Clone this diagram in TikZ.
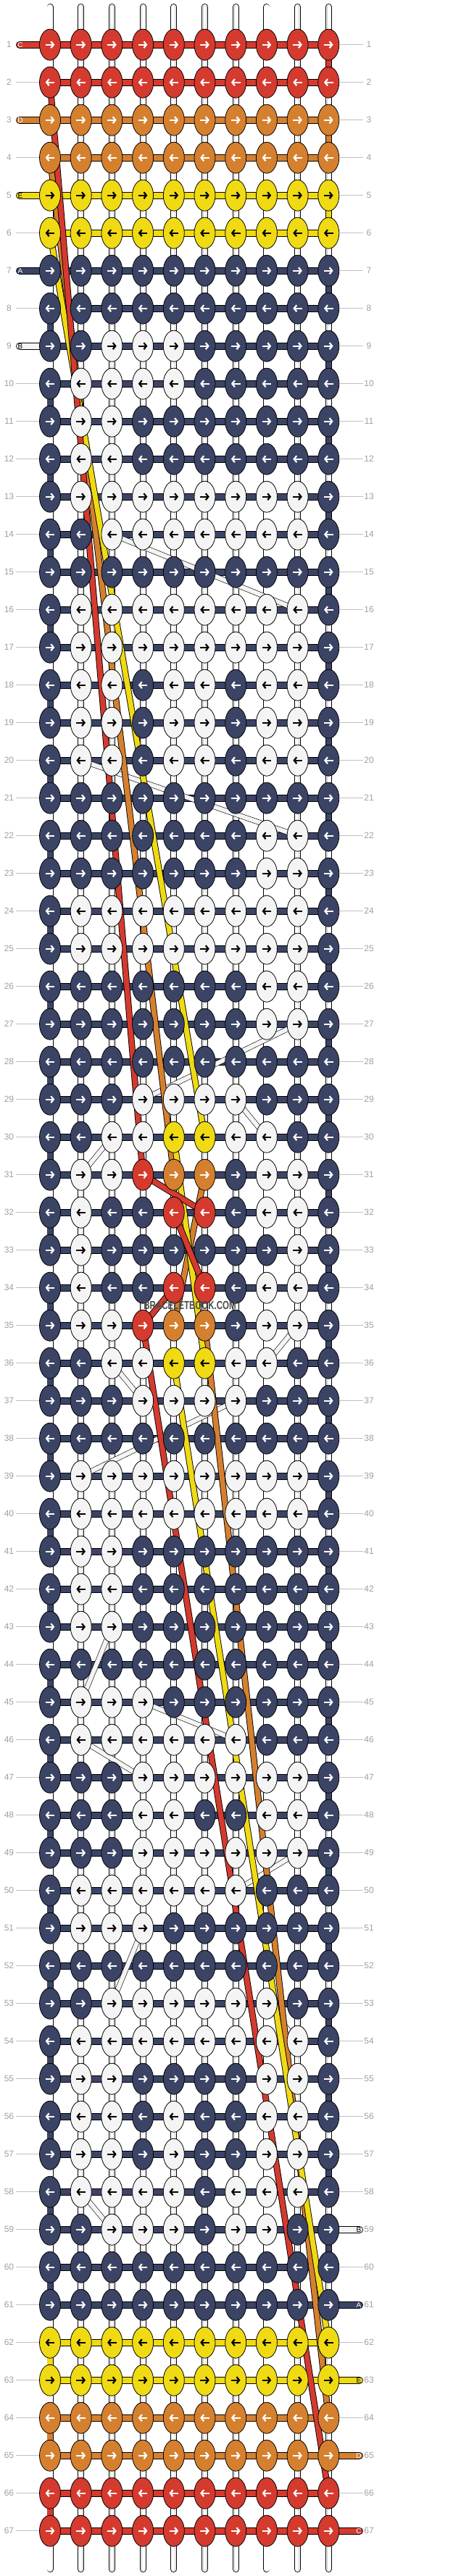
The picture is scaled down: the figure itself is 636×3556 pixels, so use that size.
\documentclass[tikz,border=0pt]{standalone}
\usepackage{fontspec}
\setmainfont{Liberation Sans}
\usepackage{graphicx}
\usetikzlibrary{shapes.geometric,arrows.meta}

\definecolor{cR}{HTML}{D53A2F}
\definecolor{cO}{HTML}{D5802F}
\definecolor{cY}{HTML}{EFDA14}
\definecolor{cN}{HTML}{3B4465}
\definecolor{cW}{HTML}{F4F4F4}
\colorlet{aR}{white}
\colorlet{aO}{white}
\colorlet{aN}{white}
\colorlet{aY}{black}
\colorlet{aW}{black}
\definecolor{numgray}{HTML}{A0A0A0}
\definecolor{guidegray}{HTML}{C0C0C0}

\tikzset{
  knot/.style={ellipse, draw=black, line width=0.8pt, minimum width=29pt, minimum height=43pt, inner sep=0pt},
  knotarrow/.style={line width=2.2pt, -{Straight Barb[length=3.6pt,width=9pt]}},
  warp/.style={draw=black, line width=0.9pt, double=white, double distance=7.2pt, line cap=round},
  warpline/.style={draw=gray!40, line width=0.5pt, double=white, double distance=3.2pt, line cap=round},
  rowbar/.style={draw=black, line width=0.9pt, double=#1, double distance=8.2pt},
  turnbar/.style={draw=black, line width=0.9pt, double=#1, double distance=7.2pt},
  tailbar/.style={rowbar=#1, line cap=round},
  floatline/.style={draw=black, line width=0.9pt, double=#1, double distance=7pt},
  whitefloat/.style={draw=black, line width=0.6pt, double=cW, double distance=6pt},
  rownum/.style={text=numgray, font=\fontsize{12}{12}\selectfont, inner sep=0pt},
  guide/.style={draw=guidegray, line width=0.8pt},
  tailtext/.style={font=\fontsize{10}{10}\selectfont, inner sep=0pt}
}

\def\knotrows{%
1/R/{R,R,R,R,R,R,R,R,R,R},%
2/R/{R,R,R,R,R,R,R,R,R,R},%
3/O/{O,O,O,O,O,O,O,O,O,O},%
4/O/{O,O,O,O,O,O,O,O,O,O},%
5/Y/{Y,Y,Y,Y,Y,Y,Y,Y,Y,Y},%
6/Y/{Y,Y,Y,Y,Y,Y,Y,Y,Y,Y},%
7/N/{N,N,N,N,N,N,N,N,N,N},%
8/N/{N,N,N,N,N,N,N,N,N,N},%
9/N/{N,N,W,W,W,N,N,N,N,N},%
10/N/{N,W,W,W,W,N,N,N,N,N},%
11/N/{N,W,W,N,N,N,N,N,N,N},%
12/N/{N,W,W,N,N,N,N,N,N,N},%
13/N/{N,W,W,W,W,W,W,W,W,N},%
14/N/{N,N,W,W,W,W,W,W,W,N},%
15/N/{N,N,N,N,N,N,N,N,N,N},%
16/N/{N,W,W,W,W,W,W,W,W,N},%
17/N/{N,W,W,W,W,W,W,W,W,N},%
18/N/{N,W,W,N,W,W,N,W,W,N},%
19/N/{N,W,W,N,W,W,N,W,W,N},%
20/N/{N,W,W,N,W,W,N,W,W,N},%
21/N/{N,N,N,N,N,N,N,N,N,N},%
22/N/{N,N,N,N,N,N,N,W,W,N},%
23/N/{N,N,N,N,N,N,N,W,W,N},%
24/N/{N,W,W,W,W,W,W,W,W,N},%
25/N/{N,W,W,W,W,W,W,W,W,N},%
26/N/{N,N,N,N,N,N,N,W,W,N},%
27/N/{N,N,N,N,N,N,N,W,W,N},%
28/N/{N,N,N,N,N,N,N,N,N,N},%
29/N/{N,N,N,W,W,W,W,N,N,N},%
30/N/{N,N,W,W,Y,Y,W,W,N,N},%
31/N/{N,W,W,R,O,O,N,W,W,N},%
32/N/{N,W,N,N,R,R,N,W,W,N},%
33/N/{N,W,N,N,N,N,N,N,W,N},%
34/N/{N,W,N,N,R,R,N,W,W,N},%
35/N/{N,W,W,R,O,O,N,W,W,N},%
36/N/{N,N,W,W,Y,Y,W,W,N,N},%
37/N/{N,N,N,W,W,W,W,N,N,N},%
38/N/{N,N,N,N,N,N,N,N,N,N},%
39/N/{N,W,W,W,W,W,W,W,W,N},%
40/N/{N,W,W,W,W,W,W,W,W,N},%
41/N/{N,W,W,N,N,N,N,N,N,N},%
42/N/{N,W,W,N,N,N,N,N,N,N},%
43/N/{N,W,W,N,N,N,N,N,N,N},%
44/N/{N,N,N,N,N,N,N,N,N,N},%
45/N/{N,W,W,W,N,N,N,N,N,N},%
46/N/{N,W,W,W,W,W,W,N,N,N},%
47/N/{N,N,N,W,W,W,W,W,W,N},%
48/N/{N,N,N,W,W,N,N,W,W,N},%
49/N/{N,N,N,W,W,W,W,W,W,N},%
50/N/{N,W,W,W,W,W,W,N,N,N},%
51/N/{N,W,W,W,N,N,N,N,N,N},%
52/N/{N,N,N,N,N,N,N,N,N,N},%
53/N/{N,N,W,W,W,W,W,W,N,N},%
54/N/{N,W,W,W,W,W,W,W,W,N},%
55/N/{N,W,W,N,N,N,N,W,W,N},%
56/N/{N,W,W,N,W,N,N,W,W,N},%
57/N/{N,W,W,N,W,N,N,W,W,N},%
58/N/{N,W,W,W,W,N,W,W,W,N},%
59/N/{N,N,W,W,W,N,W,W,N,N},%
60/N/{N,N,N,N,N,N,N,N,N,N},%
61/N/{N,N,N,N,N,N,N,N,N,N},%
62/Y/{Y,Y,Y,Y,Y,Y,Y,Y,Y,Y},%
63/Y/{Y,Y,Y,Y,Y,Y,Y,Y,Y,Y},%
64/O/{O,O,O,O,O,O,O,O,O,O},%
65/O/{O,O,O,O,O,O,O,O,O,O},%
66/R/{R,R,R,R,R,R,R,R,R,R},%
67/R/{R,R,R,R,R,R,R,R,R,R}}

\begin{document}
\begin{tikzpicture}[x=1pt, y=-1pt]
  \useasboundingbox (0,0) rectangle (636,3556);
  \fill[white] (0,0) rectangle (636,3556);

  \foreach \r in {1,...,67}
    \foreach \c in {1,...,10}
      \coordinate (p-\r-\c) at ({69+(\c-1)*42.7},{61.7+(\r-1)*52});

  % warp strings
  \foreach \c in {1,...,10} {
    \coordinate (wt-\c) at ({69+(\c-1)*42.7},9.5);
    \coordinate (wb-\c) at ({69+(\c-1)*42.7},3546.5);
    \draw[warp] (wt-\c) -- (wb-\c);
    \draw[warpline] (wt-\c) -- (wb-\c);
  }

  % turns at the edges
  \foreach \r/\cc/\col in {1/R/10,3/O/10,5/Y/10,62/Y/1,64/O/1,66/R/1} {
    \pgfmathtruncatemacro\rn{\r+1}
    \draw[turnbar=c\cc] (p-\r-\col) -- (p-\rn-\col);
  }
  \foreach \r in {7,9,...,59} {
    \pgfmathtruncatemacro\rn{\r+1}
    \draw[turnbar=cN] (p-\r-10) -- (p-\rn-10);
  }
  \foreach \r in {8,10,...,60} {
    \pgfmathtruncatemacro\rn{\r+1}
    \draw[turnbar=cN] (p-\r-1) -- (p-\rn-1);
  }

  \foreach \r/\rc/\ks in \knotrows
    \draw[rowbar=c\rc] (p-\r-1) -- (p-\r-10);

  % strings coming in and going out
  \foreach \r/\cc/\lt/\tc in {1/R/C/white,3/O/D/white,5/Y/E/black,7/N/A/white,9/W/B/black} {
    \coordinate (tl-\r) at ([xshift=-42pt]p-\r-1);
    \draw[tailbar=c\cc] (tl-\r) -- (p-\r-1);
    \node[tailtext, text=\tc] (tt-\r) at ([xshift=1pt]tl-\r) {\lt};
  }
  \foreach \r/\cc/\lt/\tc in {59/W/B/black,61/N/A/white,63/Y/E/black,65/O/D/white,67/R/C/white} {
    \coordinate (tr-\r) at ([xshift=42.7pt]p-\r-10);
    \draw[tailbar=c\cc] (p-\r-10) -- (tr-\r);
    \node[tailtext, text=\tc] (tt-\r) at ([xshift=-1pt]tr-\r) {\lt};
  }

  \foreach \a/\b in {14-3/16-9,20-2/22-9,27-9/29-4,29-7/30-8,30-3/31-2,35-9/36-8,36-3/37-4,37-7/39-2,43-3/45-2,45-4/46-7,46-2/47-4,49-9/50-7,51-4/53-3,53-8/54-9,58-2/59-3}
    \draw[whitefloat] (p-\a) -- (p-\b);

  \draw[floatline=cO] (p-4-1) -- (p-31-5);
  \draw[floatline=cO] (p-31-6) -- (p-35-5);
  \draw[floatline=cO] (p-35-6) -- (p-64-10);
  \draw[floatline=cY] (p-6-1) -- (p-30-6);
  \draw[floatline=cY] (p-30-5) -- (p-36-6);
  \draw[floatline=cY] (p-36-5) -- (p-62-10);
  \draw[floatline=cR] (p-2-1) -- (p-31-4);
  \draw[floatline=cR] (p-31-4) -- (p-32-6);
  \draw[floatline=cR] (p-32-5) -- (p-34-6);
  \draw[floatline=cR] (p-34-5) -- (p-35-4);
  \draw[floatline=cR] (p-35-4) -- (p-66-10);

  % knots
  \foreach \r/\rc/\ks in \knotrows {
    \pgfmathsetmacro\ax{isodd(\r) ? -6.3 : 6.3}
    \pgfmathsetmacro\bx{isodd(\r) ? 12.6 : -12.6}
    \foreach \k [count=\c] in \ks {
      \node[knot, fill=c\k] (k-\r-\c) at (p-\r-\c) {};
      \draw[knotarrow, draw=a\k] (p-\r-\c) ++(\ax,0) -- ++(\bx,0);
    }
  }

  \foreach \r in {1,...,67} {
    \node[rownum] (ll-\r) at ([xshift=-56.5pt]p-\r-1) {\r};
    \node[rownum] (rl-\r) at ([xshift=55.7pt]p-\r-10) {\r};
  }
  \foreach \r in {2,4,6,8,10,11,...,67}
    \draw[guide] (ll-\r) ++(9.5,0) -- (k-\r-1.west);
  \foreach \r in {1,2,...,58,60,62,64,66}
    \draw[guide] (rl-\r) ++(-8,0) -- (k-\r-10.east);

  \node[text=black!70, font=\bfseries\fontsize{16}{16}\selectfont, inner sep=0pt] (mark) at (262,1802) {\scalebox{0.72}[1]{BRACELETBOOK.COM}};
\end{tikzpicture}
\end{document}
